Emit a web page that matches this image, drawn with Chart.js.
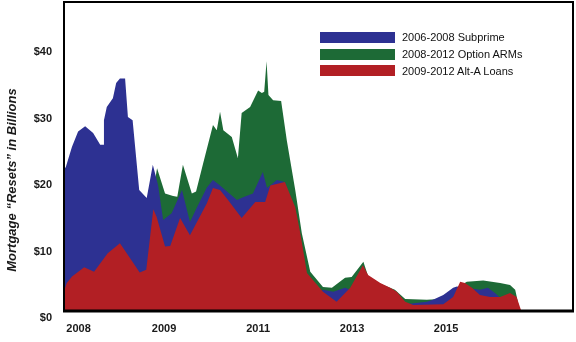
<!DOCTYPE html>
<html>
<head>
<meta charset="utf-8">
<script src="https://cdn.jsdelivr.net/npm/chart.js@4"></script>
<style>
  body { margin: 0; background: #fff; }
  #wrap { position: relative; width: 576px; height: 342px; }
  #legend { position: absolute; left: 320px; top: 29px; font: 11px "Liberation Sans", Arial, sans-serif; color: #111; }
  #legend div { display: flex; align-items: center; height: 16.7px; }
  #legend span.sw { display: inline-block; width: 75px; height: 11px; margin-right: 7px; }
</style>
</head>
<body>
<div id="wrap">
  <canvas id="c" width="576" height="342"></canvas>
  <div id="legend"></div>
</div>
<script>
    // colours
    const blueColor = '#2d3192';
    const greenColor = '#1d6a36';
    const redColor = '#b21f24';

    // x axis tick labels (years)
    const xTickAt = [2007.18, 2009, 2011, 2013, 2015];
    const xTickLabels = ['2008', '2009', '2011', '2013', '2015'];

    // 2009-2012 Alt-A Loans
    const altAX = [2006.87, 2006.93, 2007.04, 2007.30, 2007.51, 2007.80, 2008.06, 2008.32, 2008.48, 2008.62,
                   2008.77, 2008.84, 2009.02, 2009.13, 2009.34, 2009.55, 2009.91, 2010.04, 2010.19, 2010.36,
                   2010.65, 2010.94, 2011.15, 2011.26, 2011.57, 2011.79, 2011.89, 2012.04, 2012.38, 2012.67,
                   2012.96, 2013.23, 2013.34, 2013.60, 2013.81, 2013.95, 2014.13, 2014.30, 2014.94, 2015.15,
                   2015.30, 2015.40, 2015.55, 2015.72, 2015.94, 2016.15, 2016.36, 2016.50, 2016.60];
    const altAY = [3.0, 4.2, 5.2, 6.6, 5.9, 8.7, 10.2, 7.5, 5.8, 6.2,
                   15.3, 14.2, 9.7, 9.8, 14.0, 11.4, 16.2, 18.5, 18.2, 16.7,
                   14.0, 16.4, 16.4, 18.9, 19.4, 15.6, 12.0, 5.7, 2.9, 1.4,
                   3.5, 6.9, 5.4, 4.2, 3.5, 2.9, 1.4, 0.9, 1.0, 2.1,
                   4.4, 4.2, 3.5, 2.4, 2.1, 2.1, 2.7, 2.1, 0];

    // 2006-2008 Subprime
    const subprimeX = [2006.87, 2006.91, 2007.04, 2007.17, 2007.32, 2007.49, 2007.64, 2007.70, 2007.72, 2007.78,
                       2007.91, 2007.98, 2008.06, 2008.17, 2008.23, 2008.33, 2008.47, 2008.63, 2008.76, 2008.87,
                       2008.98, 2009.16, 2009.38, 2009.55, 2009.70, 2009.91, 2010.04, 2010.19, 2010.55, 2010.68,
                       2010.89, 2011.10, 2011.19, 2011.40, 2011.57, 2011.79, 2012.00, 2012.32, 2012.38, 2012.60,
                       2012.85, 2012.96, 2013.17, 2014.13, 2014.59, 2014.72, 2014.94, 2015.15, 2015.23, 2015.40,
                       2015.72, 2015.89, 2016.04, 2016.15, 2016.36, 2016.60];
    const subprimeY = [21.2, 21.7, 24.7, 27.0, 27.8, 26.8, 25.0, 25.0, 28.7, 30.7,
                       32.0, 34.3, 35.0, 35.0, 29.2, 28.7, 18.2, 17.0, 22.0, 19.0,
                       13.7, 14.7, 18.2, 13.4, 15.6, 18.6, 19.7, 18.9, 16.7, 17.1,
                       17.7, 20.9, 18.5, 19.7, 19.4, 15.0, 5.0, 2.9, 3.2, 2.9,
                       3.5, 3.2, 0.5, 1.0, 1.4, 1.7, 2.4, 3.5, 3.7, 3.5,
                       3.2, 3.5, 2.7, 2.0, 2.0, 0];

    // 2008-2012 Option ARMs
    const optionX = [2008.70, 2008.85, 2009.02, 2009.19, 2009.28, 2009.40, 2009.59, 2009.68, 2009.83, 2010.04,
                     2010.12, 2010.19, 2010.26, 2010.44, 2010.57, 2010.65, 2010.83, 2011.00, 2011.08, 2011.13,
                     2011.18, 2011.22, 2011.32, 2011.49, 2011.61, 2011.79, 2011.93, 2012.11, 2012.38, 2012.57,
                     2012.85, 2012.99, 2013.24, 2013.38, 2013.60, 2013.91, 2014.13, 2014.59, 2014.87, 2015.19,
                     2015.44, 2015.79, 2016.15, 2016.36, 2016.47, 2016.57];
    const optionY = [15.0, 21.5, 17.7, 17.3, 17.2, 22.0, 17.7, 18.0, 22.2, 28.0,
                     27.2, 30.0, 27.2, 26.2, 23.0, 29.8, 30.7, 33.2, 32.8, 33.0,
                     37.6, 32.5, 31.7, 31.6, 25.7, 18.2, 11.7, 5.9, 3.6, 3.5,
                     5.0, 5.1, 7.4, 4.4, 4.1, 3.2, 1.8, 1.7, 1.8, 3.3,
                     4.4, 4.6, 4.2, 3.9, 3.2, 0];

    const toPoints = (xs, ys) => xs.map((x, i) => ({ x: x, y: ys[i] }));

    function area(label, xs, ys, color) {
        return {
            label: label,
            data: toPoints(xs, ys),
            backgroundColor: color,
            borderWidth: 0,
            pointRadius: 0,
            fill: 'origin',
            tension: 0
        };
    }

    // frame round the plot + rotated y title
    const framePlugin = {
        id: 'frame',
        afterDatasetsDraw(chart) {
            const a = chart.chartArea;
            const ctx = chart.ctx;
            ctx.save();
            ctx.strokeStyle = '#000';
            ctx.lineWidth = 2;
            ctx.strokeRect(a.left, a.top, a.right - a.left, a.bottom - a.top);
            ctx.lineWidth = 3;
            ctx.beginPath();
            ctx.moveTo(a.left - 1, a.bottom);
            ctx.lineTo(a.right + 1, a.bottom);
            ctx.stroke();
            ctx.restore();
        },
        afterDraw(chart) {
            const ctx = chart.ctx;
            ctx.save();
            ctx.translate(12, 180);
            ctx.rotate(-Math.PI / 2);
            ctx.font = 'italic bold 13px "Liberation Sans", Arial, sans-serif';
            ctx.fillStyle = '#1a1a1a';
            ctx.textAlign = 'center';
            ctx.textBaseline = 'middle';
            ctx.fillText('Mortgage \u201cResets\u201d in Billions', 0, 0);
            ctx.restore();
        }
    };

    // red in front, blue behind, green at the back
    const datasets = [
        area('2009-2012 Alt-A Loans', altAX, altAY, redColor),
        area('2006-2008 Subprime', subprimeX, subprimeY, blueColor),
        area('2008-2012 Option ARMs', optionX, optionY, greenColor)
    ];

    const tickFont = { family: '"Liberation Sans", Arial, sans-serif', size: 11, weight: 'bold' };

    new Chart(document.getElementById('c'), {
        type: 'line',
        data: { datasets: datasets },
        options: {
            responsive: false,
            animation: false,
            layout: { padding: { top: 2, right: 3, left: 0, bottom: 0 } },
            plugins: {
                legend: { display: false },
                tooltip: { enabled: false }
            },
            scales: {
                x: {
                    type: 'linear',
                    min: 2006.87,
                    max: 2017.70,
                    grid: { display: false, drawTicks: false },
                    border: { display: false },
                    afterBuildTicks: s => { s.ticks = xTickAt.map(v => ({ value: v })); },
                    afterFit: s => { s.height = 31; s.paddingLeft = 0; s.paddingRight = 0; },
                    ticks: {
                        autoSkip: false,
                        maxRotation: 0,
                        padding: 11,
                        color: '#1a1a1a',
                        font: tickFont,
                        callback: (v, i) => xTickLabels[i]
                    }
                },
                y: {
                    min: 0,
                    max: 46.5,
                    grid: { display: false, drawTicks: false },
                    border: { display: false },
                    afterFit: s => { s.width = 64; s.paddingTop = 0; s.paddingBottom = 0; },
                    ticks: {
                        stepSize: 10,
                        includeBounds: false,
                        labelOffset: 7,
                        padding: 12,
                        color: '#1a1a1a',
                        font: tickFont,
                        callback: v => '$' + v
                    }
                }
            }
        },
        plugins: [framePlugin]
    });

    // legend in the reference order
    const legendItems = [
        ['2006-2008 Subprime', blueColor],
        ['2008-2012 Option ARMs', greenColor],
        ['2009-2012 Alt-A Loans', redColor]
    ];
    const legendEl = document.getElementById('legend');
    legendItems.forEach(([text, color]) => {
        const row = document.createElement('div');
        const sw = document.createElement('span');
        sw.className = 'sw';
        sw.style.background = color;
        row.appendChild(sw);
        row.appendChild(document.createTextNode(text));
        legendEl.appendChild(row);
    });
</script>
</body>
</html>
